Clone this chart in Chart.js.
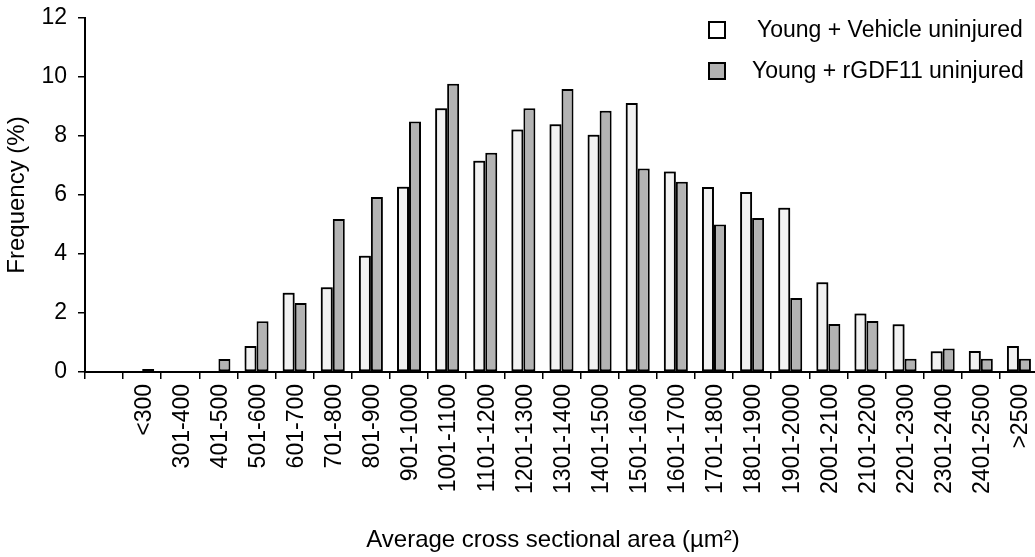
<!DOCTYPE html>
<html>
<head>
<meta charset="utf-8">
<script src="https://cdn.jsdelivr.net/npm/chart.js@4/dist/chart.umd.min.js"></script>
<style>
    html, body { margin: 0; padding: 0; background: #fff; overflow: hidden; }
    #wrap { width: 1038px; height: 557px; }
</style>
</head>
<body>
<div id="wrap"><canvas id="fiberChart" width="1038" height="557"></canvas></div>
<script>
    "use strict";

    // Fibre size bins (first slot left empty, as on the original axis)
    var binLabels = ['', '<300', '301-400', '401-500', '501-600', '601-700', '701-800', '801-900',
        '901-1000', '1001-1100', '1101-1200', '1201-1300', '1301-1400', '1401-1500', '1501-1600',
        '1601-1700', '1701-1800', '1801-1900', '1901-2000', '2001-2100', '2101-2200', '2201-2300',
        '2301-2400', '2401-2500', '>2500'];

    // Frequency (%) per bin
    var vehicleValues = [null, 0, 0, 0, 0.88, 2.69, 2.87, 3.94, 6.28, 8.94, 7.16, 8.22, 8.40,
        8.04, 9.12, 6.80, 6.27, 6.10, 5.57, 3.04, 1.98, 1.62, 0.70, 0.71, 0.88];
    var gdf11Values = [null, 0.10, 0, 0.44, 1.72, 2.34, 5.19, 5.93, 8.49, 9.77, 7.43, 8.94, 9.59,
        8.86, 6.90, 6.45, 5.00, 5.22, 2.51, 1.63, 1.73, 0.45, 0.80, 0.45, 0.45];

    var yTicks = [0, 2, 4, 6, 8, 10, 12];

    var seriesNames = ['Young + Vehicle uninjured', 'Young + rGDF11 uninjured'];
    var FONT = 'Liberation Sans, Arial, Helvetica, sans-serif';

    // soft haze around the open (vehicle) bars
    var barHaze = {
        id: 'barHaze',
        beforeDatasetDraw: function (chart, args) {
            if (args.index !== 0) return;
            var ctx = chart.ctx;
            ctx.save();
            ctx.shadowColor = 'rgba(0,0,0,0.55)';
            ctx.shadowBlur = 7;
            ctx.shadowOffsetY = -3;
        },
        afterDatasetDraw: function (chart, args) {
            if (args.index === 0) chart.ctx.restore();
        }
    };

    // legend boxes top right + x axis title
    var sideText = {
        id: 'sideText',
        afterDraw: function (chart) {
            var ctx = chart.ctx;
            var rows = [{ y: 30, textX: 757 }, { y: 71, textX: 752 }];
            ctx.save();
            chart.data.datasets.forEach(function (ds, i) {
                var r = rows[i];
                ctx.fillStyle = i === 0 ? '#fff' : ds.backgroundColor;
                ctx.fillRect(708, r.y - 9, 18, 18);
                ctx.strokeStyle = '#000';
                ctx.lineWidth = 2;
                ctx.strokeRect(709, r.y - 8, 16, 16);
                ctx.fillStyle = '#000';
                ctx.font = '23px ' + FONT;
                ctx.textBaseline = 'middle';
                ctx.textAlign = 'left';
                ctx.fillText(ds.label, r.textX, r.y + 1);
            });
            ctx.font = '24px ' + FONT;
            ctx.textAlign = 'center';
            ctx.textBaseline = 'middle';
            ctx.fillText('Average cross sectional area (\u00b5m\u00b2)', 553, 540);
            ctx.restore();
        }
    };

    new Chart(document.getElementById('fiberChart').getContext('2d'), {
        type: 'bar',
        data: {
            labels: binLabels,
            datasets: [
                { label: seriesNames[0], data: vehicleValues, backgroundColor: '#f2f2f2',
                  borderColor: '#000', borderWidth: 2, borderSkipped: false },
                { label: seriesNames[1], data: gdf11Values, backgroundColor: '#b3b3b3',
                  borderColor: '#000', borderWidth: 2, borderSkipped: false }
            ]
        },
        options: {
            responsive: false,
            animation: false,
            categoryPercentage: 0.63,
            barPercentage: 1.0,
            layout: { padding: { top: 18, right: 0, bottom: 0, left: 0 } },
            plugins: {
                legend: { display: false },
                tooltip: { enabled: false }
            },
            scales: {
                x: {
                    grid: { offset: true, drawOnChartArea: false, tickLength: 7, color: '#000', lineWidth: 1.5 },
                    border: { color: '#000', width: 2 },
                    ticks: {
                        autoSkip: false, maxRotation: 90, minRotation: 90, padding: 5, labelOffset: 2,
                        color: '#000', font: { family: FONT, size: 23 }
                    },
                    afterFit: function (scale) {
                        scale.height = 185;
                        scale.paddingLeft = 0;
                        scale.paddingRight = 0;
                    }
                },
                y: {
                    min: 0, max: 12,
                    afterBuildTicks: function (scale) {
                        scale.ticks = yTicks.map(function (v) { return { value: v }; });
                    },
                    grid: { drawOnChartArea: false, tickLength: 7, color: '#000', lineWidth: 1.5 },
                    border: { color: '#000', width: 2 },
                    ticks: { padding: 11, color: '#000', font: { family: FONT, size: 23 } },
                    title: {
                        display: true, text: 'Frequency (%)', color: '#000',
                        font: { family: FONT, size: 24 }, padding: { top: 3, bottom: 0 }
                    },
                    afterFit: function (scale) {
                        scale.width = 85;
                        scale.paddingTop = 0;
                        scale.paddingBottom = 0;
                    }
                }
            }
        },
        plugins: [barHaze, sideText]
    });
</script>
</body>
</html>
